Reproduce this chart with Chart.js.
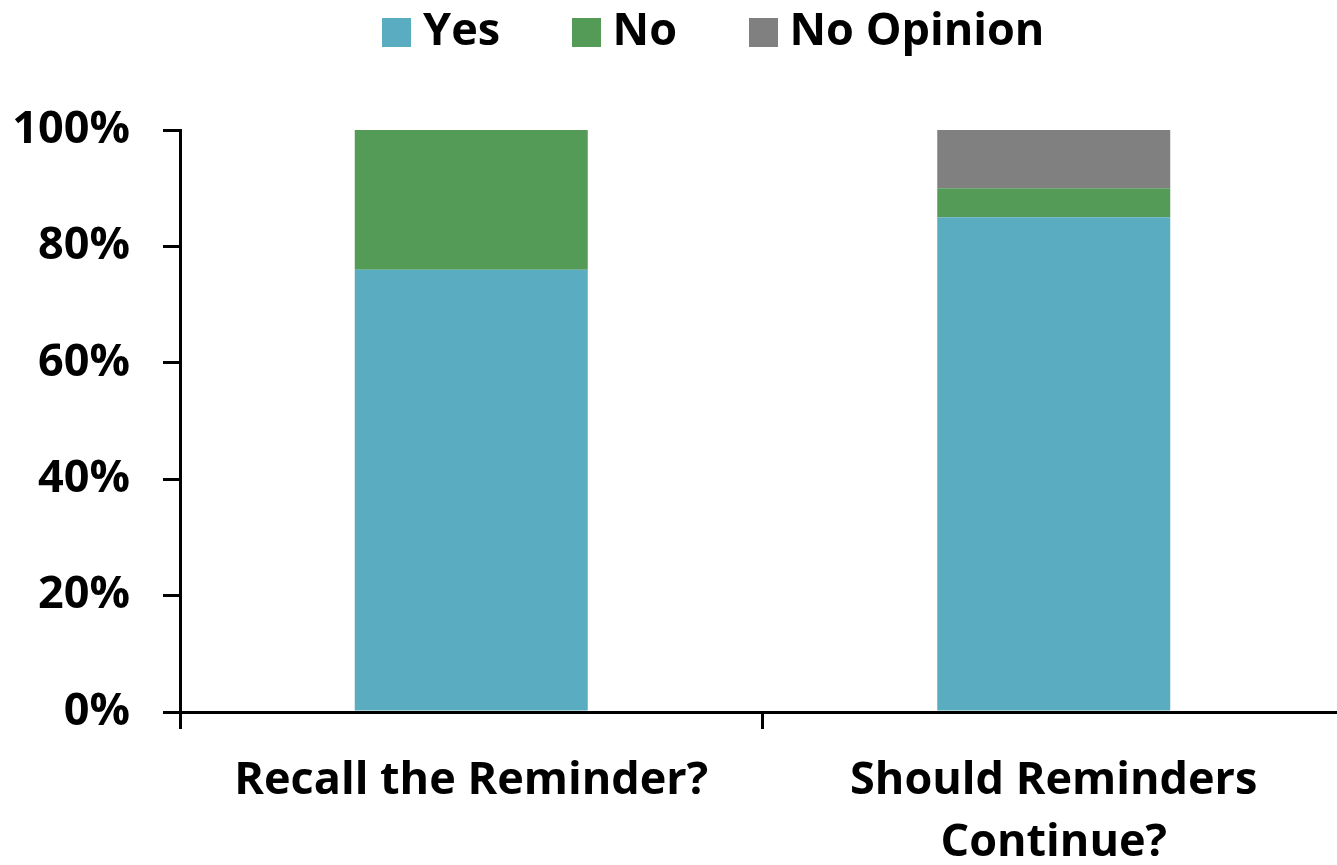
<!DOCTYPE html>
<html>
<head>
<meta charset="utf-8">
<script src="https://cdn.jsdelivr.net/npm/chart.js@4.4.1/dist/chart.umd.min.js"></script>
<style>
  html, body { margin: 0; padding: 0; background: #fff; overflow: hidden; }
  canvas { display: block; }
</style>
</head>
<body>
<canvas id="surveyChart" width="1360" height="900"></canvas>
<script>
// survey answers, percent of respondents
const categories = ["Recall the Reminder?", ["Should Reminders", "Continue?"]];
const yesValues = [76, 85];
const noValues = [24, 5];
const noOpinionValues = [0, 10];
const yTickValues = [0, 20, 40, 60, 80, 100];

const colors = {
  yes: "#5AADC0",
  no: "#549B58",
  noOpinion: "#808080",
};

// square legend swatch (drawn as point style so the text sits close to it)
function swatch(color) {
  const c = document.createElement("canvas");
  c.width = 29;
  c.height = 29;
  const g = c.getContext("2d");
  g.fillStyle = color;
  g.fillRect(0, 0, 29, 29);
  return c;
}

// move the legend row up and right after layout has placed it
const legendNudge = {
  id: "legendNudge",
  afterLayout(chart) {
    const legend = chart.legend;
    legend.top = -72;
    legend.left += 46;
    legend.right += 46;
  },
};

Chart.defaults.font.family = '"Open Sans", sans-serif';
Chart.defaults.font.weight = "bold";
Chart.defaults.font.size = 45;
Chart.defaults.color = "#000";

const ctx = document.getElementById("surveyChart").getContext("2d");

new Chart(ctx, {
  type: "bar",
  data: {
    labels: categories,
    datasets: [
      { label: "Yes", data: yesValues, backgroundColor: colors.yes, pointStyle: swatch(colors.yes) },
      { label: "No", data: noValues, backgroundColor: colors.no, pointStyle: swatch(colors.no) },
      { label: "No Opinion", data: noOpinionValues, backgroundColor: colors.noOpinion, pointStyle: swatch(colors.noOpinion) },
    ],
  },
  options: {
    responsive: false,
    animation: false,
    devicePixelRatio: 1,
    barPercentage: 0.4,
    categoryPercentage: 1.0,
    layout: { padding: { top: -7, right: 15, left: 0, bottom: 0 } },
    plugins: {
      legend: {
        position: "top",
        labels: {
          usePointStyle: true,
          boxWidth: 8,
          padding: 82,
          font: { size: 45, weight: "bold" },
        },
      },
      tooltip: { enabled: false },
    },
    scales: {
      x: {
        stacked: true,
        afterFit: (scale) => { scale.height = 900 - 712; },
        grid: {
          offset: true,
          drawOnChartArea: false,
          drawTicks: true,
          tickLength: 17,
          tickWidth: 3,
          color: "#000",
          lineWidth: 3,
        },
        border: { color: "#000", width: 3 },
        ticks: {
          padding: 21,
          maxRotation: 0,
          autoSkip: false,
          font: { size: 45, weight: "bold", lineHeight: 1.38 },
        },
      },
      y: {
        stacked: true,
        min: 0,
        max: 100,
        afterFit: (scale) => { scale.width = 180; },
        afterBuildTicks: (scale) => {
          scale.ticks = yTickValues.map((v) => ({ value: v }));
        },
        grid: {
          drawOnChartArea: false,
          drawTicks: true,
          tickLength: 17,
          tickWidth: 3,
          color: "#000",
          lineWidth: 3,
        },
        border: { color: "#000", width: 3 },
        ticks: {
          padding: 33,
          callback: (v) => v + "%",
          font: { size: 45, weight: "bold" },
        },
      },
    },
  },
  plugins: [legendNudge],
});
</script>
</body>
</html>
